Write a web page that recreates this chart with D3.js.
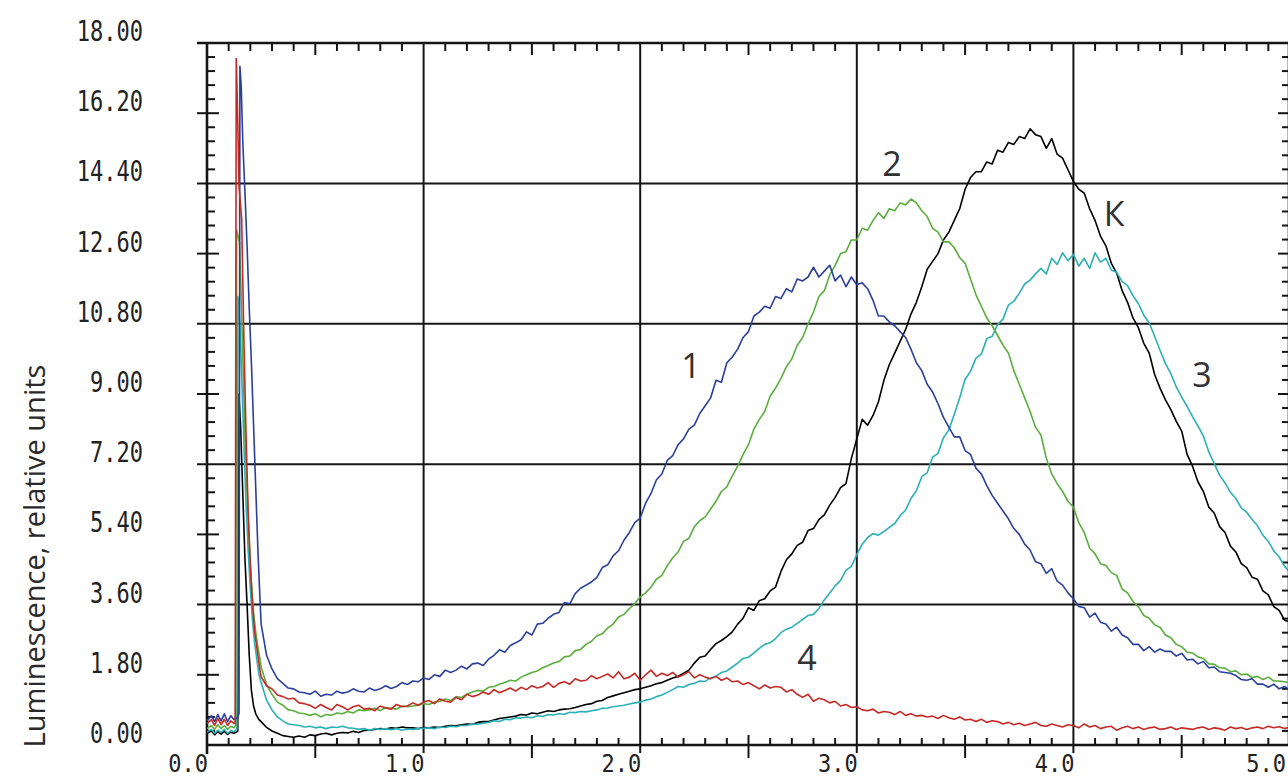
<!DOCTYPE html>
<html><head><meta charset="utf-8">
<script src="https://cdn.jsdelivr.net/npm/d3@7"></script>
<style>body{margin:0;background:#fff}svg{display:block}</style>
</head><body><svg id="c" width="1288" height="780"></svg>
<script>
// ---------- data ----------
const xTickValues = [0, 1, 2, 3, 4, 5];
const xTickLabels = ["0.0", "1.0", "2.0", "3.0", "4.0", "5.0"];
const yTickValues = [0, 1.8, 3.6, 5.4, 7.2, 9, 10.8, 12.6, 14.4, 16.2, 18];
const yTickLabels = ["0.00", "1.80", "3.60", "5.40", "7.20", "9.00", "10.80", "12.60", "14.40", "16.20", "18.00"];
const seriesNames = ["1", "2", "К", "3", "4"];

// x grid of the main part of every curve: 0.25 ... 5.00 step 0.025
const bodyX = d3.range(0, 191).map(i => +(0.25 + 0.025 * i).toFixed(3));

// initial flash (x, y) for each curve
const spike1 = [[0,0.62],[0.02,0.75],[0.035,0.6],[0.05,0.78],[0.065,0.62],[0.08,0.8],[0.095,0.6],[0.11,0.75],[0.125,0.65],[0.14,0.7],[0.148,0.8],[0.152,17.4],[0.158,16.9],[0.165,15.5],[0.175,14.2],[0.185,12.8],[0.195,11.2],[0.205,9.8],[0.215,8.2],[0.225,6.6],[0.235,5.0],[0.245,3.7]];
const spike2 = [[0,0.42],[0.02,0.5],[0.035,0.4],[0.05,0.52],[0.065,0.42],[0.08,0.5],[0.095,0.4],[0.11,0.48],[0.125,0.44],[0.132,0.5],[0.137,13.2],[0.15,12.9],[0.158,11.5],[0.165,10.0],[0.175,8.0],[0.185,6.5],[0.195,5.2],[0.205,4.2],[0.215,3.4],[0.225,2.9],[0.235,2.5],[0.245,2.2]];
const spikeK = [[0,0.3],[0.02,0.36],[0.035,0.26],[0.05,0.34],[0.065,0.28],[0.08,0.35],[0.095,0.27],[0.11,0.33],[0.125,0.3],[0.142,0.35],[0.147,9.0],[0.155,8.2],[0.165,6.5],[0.175,4.8],[0.185,3.6],[0.195,2.3],[0.205,1.4],[0.215,1.0],[0.225,0.8],[0.24,0.65]];
const spike3 = [[0,0.33],[0.02,0.4],[0.035,0.3],[0.05,0.38],[0.065,0.32],[0.08,0.4],[0.095,0.3],[0.11,0.37],[0.125,0.34],[0.138,0.4],[0.143,11.5],[0.152,10.8],[0.16,9.5],[0.17,7.8],[0.18,6.2],[0.19,5.0],[0.2,4.0],[0.21,3.2],[0.22,2.6],[0.23,2.2],[0.24,1.8]];
const spike4 = [[0,0.55],[0.02,0.65],[0.035,0.5],[0.05,0.68],[0.065,0.52],[0.08,0.66],[0.095,0.5],[0.11,0.62],[0.125,0.55],[0.13,0.55],[0.135,17.6],[0.142,16.0],[0.148,14.3],[0.16,13.5],[0.17,10.5],[0.18,8.0],[0.19,6.0],[0.2,4.6],[0.21,3.6],[0.22,2.9],[0.235,2.3],[0.245,1.9]];

// main part, one value per bodyX
const body1 = [
3.1,2.3,1.95,1.7, 1.58,1.46,1.44,1.36, 1.34,1.3,1.38,1.25, 1.3,1.28,1.38,1.33,
1.36,1.44,1.38,1.36, 1.46,1.4,1.44,1.52, 1.45,1.5,1.6,1.55, 1.64,1.62,1.72,1.68,
1.8,1.76,1.92,1.86, 1.92,2.02,1.95,2.08, 2.1,2.04,2.2,2.3, 2.44,2.38,2.55,2.62,
2.7,2.9,2.82,3.1, 3.12,3.25,3.35,3.4, 3.65,3.62,3.88,4.02, 4.1,4.18,4.3,4.55,
4.62,4.85,4.98,5.25, 5.45,5.7,5.82,6.2, 6.45,6.8,6.95,7.3, 7.42,7.7,7.85,8.1,
8.2,8.5,8.7,8.9, 9.35,9.3,9.8,9.95, 10.15,10.45,10.6,11.0, 11.1,11.25,11.2,11.5,
11.45,11.7,11.62,11.95, 11.9,12.0,12.25,12.0, 12.15,12.3,11.9,12.05, 11.75,12.0,11.8,11.85,
11.7,11.4,11.0,11.0, 10.85,10.75,10.6,10.45, 10.15,9.8,9.6,9.25, 9.05,8.75,8.4,8.15,
7.9,7.9,7.55,7.45, 7.1,6.95,6.65,6.4, 6.2,6.0,5.8,5.55, 5.4,5.15,5.0,4.7,
4.65,4.4,4.52,4.2, 4.1,3.9,3.75,3.55, 3.52,3.28,3.38,3.15, 3.1,2.92,3.02,2.82,
2.75,2.58,2.58,2.42, 2.52,2.38,2.46,2.4, 2.4,2.28,2.35,2.18, 2.2,2.08,2.14,1.98,
2.0,1.88,1.86,1.84, 1.78,1.68,1.66,1.7, 1.56,1.56,1.48,1.56, 1.44,1.5,1.4];
const body2 = [
2.0,1.55,1.3,1.1, 1.02,0.9,0.88,0.82, 0.8,0.76,0.8,0.72, 0.78,0.76,0.82,0.8,
0.86,0.82,0.9,0.88, 0.9,0.94,0.88,0.96, 0.94,0.92,1.0,0.98, 1.0,1.02,1.06,1.04,
1.1,1.12,1.18,1.14, 1.24,1.22,1.3,1.36, 1.4,1.38,1.48,1.5, 1.56,1.6,1.66,1.64,
1.74,1.8,1.86,1.9, 1.98,2.04,2.1,2.14, 2.26,2.28,2.42,2.45, 2.58,2.66,2.8,2.85,
3.0,3.1,3.28,3.35, 3.5,3.62,3.8,3.9, 4.05,4.25,4.35,4.6, 4.8,4.95,5.22,5.3,
5.6,5.75,5.85,6.05, 6.25,6.5,6.62,6.9, 7.15,7.45,7.7,8.1, 8.35,8.55,8.95,9.15,
9.4,9.7,9.9,10.25, 10.45,10.8,11.1,11.5, 11.65,12.05,12.3,12.6, 12.65,12.95,12.95,13.25,
13.2,13.45,13.65,13.5, 13.75,13.7,13.9,13.85, 14.0,13.9,13.7,13.55, 13.25,13.15,12.9,12.9,
12.75,12.5,12.35,11.95, 11.55,11.25,10.95,10.75, 10.5,10.25,10.05,9.6, 9.25,8.9,8.55,8.15,
7.95,7.35,6.95,6.7, 6.5,6.25,6.1,5.7, 5.45,5.05,4.9,4.65, 4.6,4.42,4.35,4.0,
3.9,3.68,3.55,3.32, 3.25,3.08,3.02,2.82, 2.75,2.58,2.52,2.38, 2.36,2.26,2.22,2.08,
2.07,1.98,1.97,1.88, 1.9,1.8,1.82,1.73, 1.76,1.68,1.74,1.64, 1.64,1.62,1.6];
const bodyK = [
0.6,0.45,0.36,0.3, 0.24,0.22,0.2,0.23, 0.2,0.26,0.24,0.28, 0.3,0.26,0.3,0.32,
0.31,0.35,0.32,0.37, 0.38,0.4,0.42,0.41, 0.44,0.43,0.46,0.44, 0.44,0.42,0.45,0.44,
0.46,0.45,0.48,0.5, 0.49,0.52,0.54,0.53, 0.58,0.6,0.6,0.64, 0.68,0.7,0.72,0.74,
0.78,0.77,0.82,0.8, 0.84,0.88,0.86,0.9, 0.92,0.93,0.96,1.0, 1.04,1.06,1.12,1.14,
1.22,1.26,1.3,1.34, 1.38,1.42,1.44,1.48, 1.52,1.57,1.6,1.66, 1.72,1.76,1.84,1.92,
2.1,2.25,2.28,2.45, 2.6,2.68,2.78,2.9, 3.1,3.25,3.52,3.45, 3.7,3.75,3.95,4.05,
4.45,4.75,4.9,5.12, 5.2,5.5,5.55,5.78, 5.9,6.15,6.35,6.6, 6.7,7.35,7.85,8.35,
8.2,8.45,8.8,9.35, 9.75,10.05,10.35,10.65, 11.05,11.35,11.75,12.2, 12.4,12.6,12.95,13.15,
13.45,13.75,14.25,14.55, 14.7,14.7,14.95,14.9, 15.25,15.2,15.45,15.4, 15.6,15.55,15.8,15.65,
15.6,15.3,15.55,15.15, 15.05,14.75,14.45,14.25, 14.15,13.75,13.45,13.05, 12.8,12.35,12.1,11.65,
11.35,10.95,10.7,10.3, 10.05,9.5,9.15,8.85, 8.6,8.3,8.05,7.45, 7.15,6.75,6.5,6.1,
5.95,5.6,5.45,5.1, 4.95,4.65,4.55,4.3, 4.25,3.95,3.85,3.55, 3.45,3.2,3.15];
const body3 = [
1.6,1.15,0.9,0.72, 0.62,0.54,0.52,0.5, 0.46,0.48,0.44,0.46, 0.42,0.46,0.45,0.48,
0.44,0.43,0.4,0.42, 0.38,0.42,0.4,0.42, 0.39,0.42,0.38,0.41, 0.4,0.42,0.43,0.44,
0.42,0.46,0.45,0.48, 0.47,0.5,0.5,0.54, 0.53,0.56,0.58,0.62, 0.6,0.66,0.65,0.7,
0.69,0.72,0.7,0.75, 0.73,0.78,0.77,0.8, 0.79,0.84,0.83,0.86, 0.85,0.88,0.9,0.94,
0.95,0.98,1.0,1.02, 1.05,1.08,1.1,1.15, 1.18,1.24,1.28,1.35, 1.42,1.5,1.48,1.55,
1.58,1.64,1.63,1.72, 1.76,1.86,1.9,2.0, 2.1,2.22,2.25,2.36, 2.48,2.58,2.62,2.73,
2.88,2.97,3.02,3.12, 3.22,3.32,3.35,3.5, 3.72,3.9,4.08,4.22, 4.48,4.58,4.88,5.15,
5.32,5.42,5.38,5.48, 5.58,5.68,5.88,6.02, 6.32,6.52,6.88,6.98, 7.38,7.48,7.88,8.08,
8.48,8.9,9.38,9.58, 9.92,10.02,10.42,10.48, 10.78,10.92,11.28,11.38, 11.58,11.82,11.92,12.08,
12.22,12.08,12.48,12.32, 12.62,12.42,12.58,12.28, 12.48,12.22,12.62,12.38, 12.48,12.18,12.12,11.88,
11.78,11.52,11.32,11.02, 10.82,10.48,10.12,9.78, 9.52,9.18,8.92,8.68, 8.42,8.18,7.92,7.52,
7.22,6.92,6.72,6.48, 6.32,6.08,5.97,5.78, 5.62,5.38,5.22,4.98, 4.82,4.58,4.42];
const body4 = [
1.75,1.52,1.44,1.28, 1.24,1.18,1.2,1.08, 1.06,1.02,0.94,1.04, 0.96,0.9,1.04,0.98,
0.9,0.98,1.02,0.92, 0.94,0.88,1.0,0.95, 0.92,1.04,0.98,1.0, 1.08,1.02,1.1,1.14,
1.06,1.18,1.12,1.1, 1.22,1.16,1.3,1.24, 1.28,1.36,1.3,1.42, 1.34,1.4,1.46,1.38,
1.48,1.42,1.52,1.46, 1.5,1.6,1.48,1.58, 1.62,1.56,1.7,1.64, 1.66,1.78,1.7,1.76,
1.82,1.72,1.88,1.7, 1.74,1.84,1.66,1.8, 1.92,1.76,1.84,1.78, 1.86,1.74,1.8,1.88,
1.72,1.8,1.74,1.7, 1.76,1.66,1.72,1.62, 1.64,1.55,1.6,1.52, 1.44,1.54,1.46,1.5,
1.48,1.36,1.42,1.3, 1.22,1.3,1.12,1.2, 1.16,1.08,1.12,1.0, 1.04,0.96,0.98,0.9,
0.88,0.92,0.82,0.86, 0.84,0.78,0.86,0.76, 0.8,0.74,0.76,0.72, 0.74,0.68,0.76,0.7,
0.66,0.72,0.64,0.66, 0.6,0.66,0.58,0.62, 0.6,0.54,0.58,0.52, 0.56,0.5,0.54,0.58,
0.5,0.48,0.54,0.5, 0.46,0.52,0.5,0.44, 0.54,0.46,0.5,0.42, 0.46,0.48,0.38,0.44,
0.48,0.42,0.46,0.4, 0.44,0.46,0.4,0.42, 0.46,0.4,0.44,0.42, 0.4,0.44,0.46,0.4,
0.44,0.42,0.38,0.46, 0.42,0.45,0.4,0.44, 0.46,0.42,0.48,0.44, 0.47,0.42,0.46];

// ---------- chart ----------
const svg = d3.select("#c");
svg.append("rect").attr("width", 1288).attr("height", 780).attr("fill", "#fff");

const x = d3.scaleLinear().domain([0, 5]).range([207, 1290]);
const y = d3.scaleLinear().domain([0, 18]).range([745, 43]);
const ink = "#141414";

const g = svg.append("g");
const line = (x1, y1, x2, y2, w) => g.append("line")
  .attr("x1", x1).attr("y1", y1).attr("x2", x2).attr("y2", y2)
  .attr("stroke", ink).attr("stroke-width", w);

// horizontal gridlines and major y ticks
yTickValues.forEach((v, i) => {
  if (i === 0 || i === yTickValues.length - 1) return;
  if (i % 2 === 0) line(197, y(v), 1290, y(v), 2);
  else { line(197, y(v), 219, y(v), 2); line(1278, y(v), 1290, y(v), 2); }
});
// minor y ticks
d3.range(0, 51).forEach(k => {
  if (k % 5 === 0) return;
  const v = k * 0.36;
  line(207, y(v), 215, y(v), 2);
  line(1282, y(v), 1290, y(v), 2);
});
// vertical gridlines
xTickValues.forEach(v => { if (v > 0 && v < 5) line(x(v), 43, x(v), 753, 2); });
// minor / half x ticks
d3.range(1, 50).forEach(k => {
  if (k % 10 === 0) return;
  const v = k / 10;
  if (k % 5 === 0) { line(x(v), 43, x(v), 55, 2); line(x(v), 735, x(v), 758, 2); }
  else { line(x(v), 43, x(v), 51, 2); line(x(v), 745, x(v), 738, 2); }
});
// frame
line(207, 42, 207, 754, 2.6);
line(197, 43, 1290, 43, 2.6);
line(206, 745, 1290, 745, 2.6);
line(1289, 43, 1289, 745, 2.6);

// tick labels
const labFont = "'DejaVu Sans Mono', 'Liberation Mono', monospace";
yTickValues.forEach((v, i) => {
  svg.append("text")
    .attr("transform", `translate(143,${y(v) - 2}) scale(1,1.25)`)
    .attr("text-anchor", "end")
    .attr("font-family", labFont).attr("font-size", 22)
    .attr("fill", "#222").text(yTickLabels[i]);
});
xTickValues.forEach((v, i) => {
  const tx = Math.min(x(v) + 1, 1286);
  svg.append("text")
    .attr("transform", `translate(${tx},772) scale(1,1.15)`)
    .attr("text-anchor", "end")
    .attr("font-family", labFont).attr("font-size", 22)
    .attr("fill", "#222").text(xTickLabels[i]);
});

// axis title
svg.append("text")
  .attr("transform", "translate(45,556) rotate(-90)")
  .attr("text-anchor", "middle")
  .attr("font-family", "'Open Sans', 'Noto Sans', sans-serif")
  .attr("font-size", 29).attr("fill", "#2a2a2a")
  .text("Luminescence, relative units");

// curves
svg.append("clipPath").attr("id", "clip").append("rect")
  .attr("x", 207).attr("y", 43).attr("width", 1083).attr("height", 702);
const series = [
  { name: seriesNames[2], color: "#000000", spike: spikeK, body: bodyK, lx: 1114, ly: 213 },
  { name: seriesNames[3], color: "#2bb0b6", spike: spike3, body: body3, lx: 1202, ly: 374 },
  { name: seriesNames[1], color: "#5aae3e", spike: spike2, body: body2, lx: 892, ly: 163 },
  { name: seriesNames[0], color: "#2b3f9c", spike: spike1, body: body1, lx: 691, ly: 365 },
  { name: seriesNames[4], color: "#c42a26", spike: spike4, body: body4, lx: 807, ly: 657 }
];
const path = d3.line().x(d => x(d[0])).y(d => y(d[1]));
const pg = svg.append("g").attr("clip-path", "url(#clip)");
series.forEach(s => {
  const pts = s.spike.concat(bodyX.map((xv, i) => [xv, s.body[i]]));
  pg.append("path").attr("d", path(pts)).attr("fill", "none")
    .attr("stroke", s.color).attr("stroke-width", 1.6).attr("stroke-linejoin", "round");
});
// curve labels
series.forEach(s => {
  svg.append("text").attr("x", s.lx).attr("y", s.ly)
    .attr("text-anchor", "middle").attr("dominant-baseline", "central")
    .attr("font-family", "'Open Sans', 'Noto Sans', sans-serif")
    .attr("font-size", 34).attr("fill", "#333").text(s.name);
});
</script></body></html>
